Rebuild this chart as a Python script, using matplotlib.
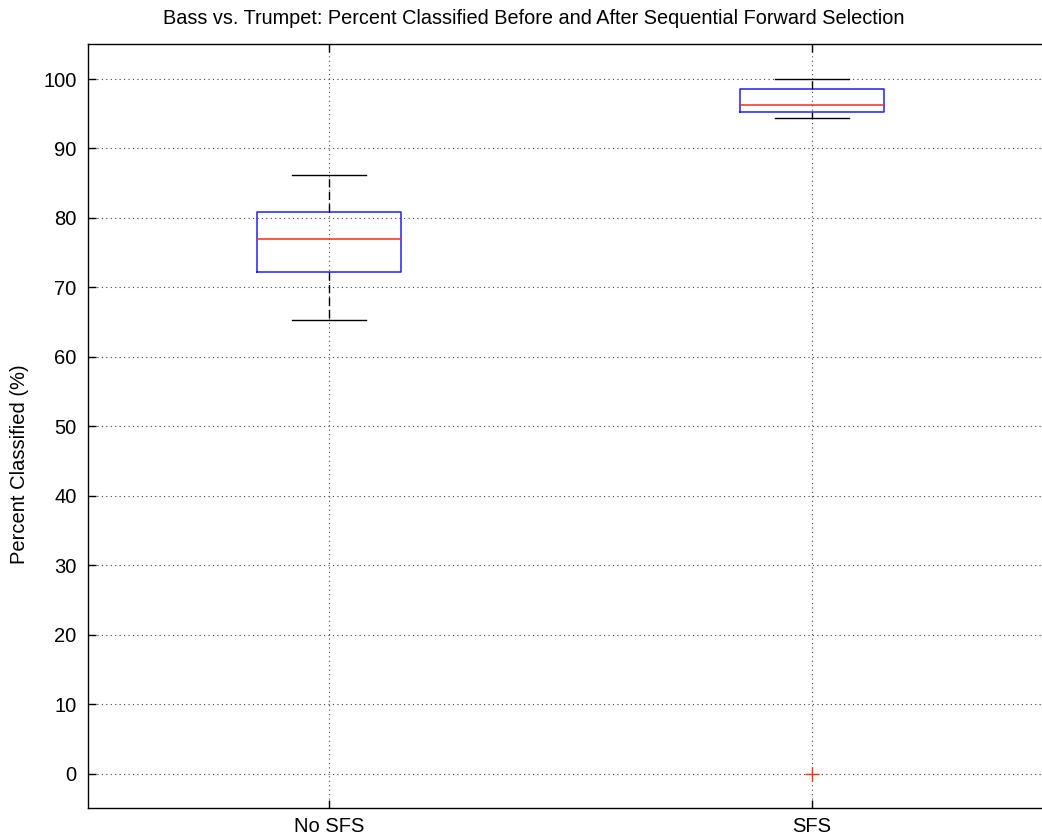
import matplotlib
matplotlib.use("Agg")
import matplotlib.pyplot as plt

categories = ["No SFS", "SFS"]
whislo = [65.3, 94.4]
q1 = [72.2, 95.2]
med = [77.0, 96.3]
q3 = [80.9, 98.6]
whishi = [86.2, 100.0]
fliers = [[], [0.0]]
yticks = list(range(0, 101, 10))

plt.rcParams['font.family'] = ['Liberation Sans', 'DejaVu Sans']

W, H = 1042, 839
fig = plt.figure(figsize=(W / 100, H / 100), dpi=100)
left, right, top, bottom = 87.5, 1053.5, 44.3, 808.3
ax = fig.add_axes([left / W, 1 - bottom / H, (right - left) / W, (bottom - top) / H])

stats = []
for i, c in enumerate(categories):
    stats.append(dict(label=c, whislo=whislo[i], q1=q1[i], med=med[i], q3=q3[i],
                      whishi=whishi[i], fliers=fliers[i]))

ax.bxp(stats, positions=[1, 2], widths=0.30, showfliers=True,
       boxprops=dict(color='#2020ff', linewidth=1.1),
       medianprops=dict(color='#ff2a1a', linewidth=1.1),
       whiskerprops=dict(color='black', linewidth=1.0, linestyle=(0, (6, 3))),
       capprops=dict(color='black', linewidth=1.0),
       capwidths=0.153,
       flierprops=dict(marker='+', markeredgecolor='#ff2a1a', markersize=10,
                       markeredgewidth=1.0, linestyle='none'),
       zorder=3)

ax.set_xlim(0.5, 2.5)
ax.set_ylim(-5, 105)
ax.set_yticks(yticks)
ax.set_xticks([1, 2])
ax.set_xticklabels(categories)
ax.tick_params(direction='in', length=6, width=1.0, labelsize=14.5, colors='black',
               top=True, right=True)
ax.tick_params(axis='x', pad=6)
ax.tick_params(axis='y', pad=8)
ax.grid(True, linestyle=(0, (1, 3)), color='#444444', linewidth=0.8)
ax.set_axisbelow(True)
for s in ax.spines.values():
    s.set_linewidth(1.0)
    s.set_color('black')

fig.text(534 / W, 1 - 18 / H, "Bass vs. Trumpet: Percent Classified Before and After Sequential Forward Selection",
         ha='center', va='center', fontsize=14.3)
fig.text(20 / W, 1 - 464 / H, "Percent Classified (%)", rotation=90, ha='center', va='center', fontsize=14.5)

fig.savefig("out.png", dpi=100)
